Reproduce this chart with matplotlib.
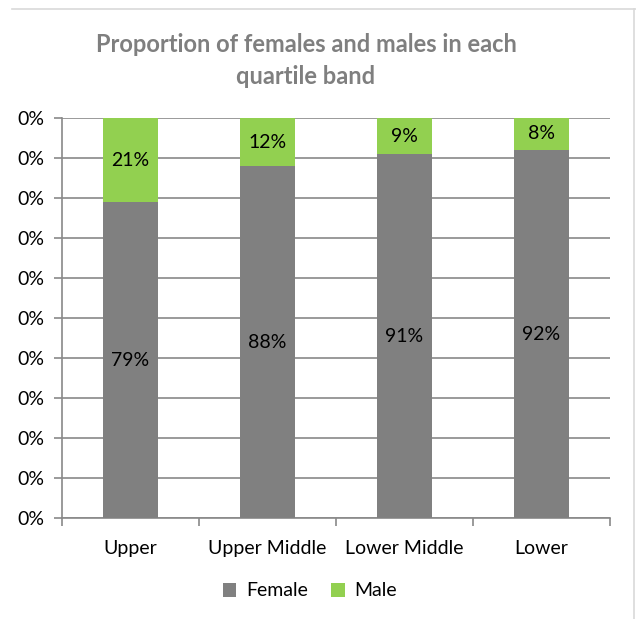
import numpy as np
import matplotlib.pyplot as plt

categories = ['Upper', 'Upper Middle', 'Lower Middle', 'Lower']
female = [0.79, 0.88, 0.91, 0.92]
male = [0.21, 0.12, 0.09, 0.08]
y_ticks = np.arange(0, 1.01, 0.1)
y_tick_labels = ['0%'] * len(y_ticks)

plt.rcParams['font.family'] = ['Lato', 'DejaVu Sans']

W, H = 636, 619
fig = plt.figure(figsize=(W / 100, H / 100), dpi=100)
ax = fig.add_axes([62 / W, 1 - 518 / H, (610 - 62) / W, (518 - 118) / H])

grid_c = '#898989'
female_c = '#808080'
male_c = '#92D050'

x = np.arange(len(categories))
bw = 0.4
ax.bar(x, female, bw, color=female_c, label='Female', zorder=3)
ax.bar(x, male, bw, bottom=female, color=male_c, label='Male', zorder=3)

for xi, f, m in zip(x, female, male):
    ax.text(xi, f / 2, f'{f * 100:.0f}%', ha='center', va='center', fontsize=14, color='black', zorder=4)
    ax.text(xi, f + m / 2, f'{m * 100:.0f}%', ha='center', va='center', fontsize=14, color='black', zorder=4)

ax.set_xlim(-0.5, len(categories) - 0.5)
ax.set_ylim(0, 1)
ax.set_yticks(y_ticks)
ax.set_yticklabels(y_tick_labels, fontsize=14)
ax.yaxis.grid(True, color=grid_c, linewidth=1.2, zorder=0)
ax.tick_params(axis='y', length=6, color=grid_c, width=1.2, pad=7)

# x ticks at category boundaries, labels at centres
ax.set_xticks(np.arange(len(categories) + 1) - 0.5)
ax.set_xticklabels([])
ax.set_xticks(x, minor=True)
ax.set_xticklabels(categories, minor=True, fontsize=14)
ax.tick_params(axis='x', which='major', length=6, color=grid_c, width=1.2)
ax.tick_params(axis='x', which='minor', length=0, pad=16)

for s in ['top', 'right']:
    ax.spines[s].set_visible(False)
for s in ['left', 'bottom']:
    ax.spines[s].set_color(grid_c)
    ax.spines[s].set_linewidth(1.2)

fig.text(306 / W, 1 - 45 / H, 'Proportion of females and males in each',
         ha='center', va='center', fontsize=17, fontweight='bold', color='#7f7f7f')
fig.text(306 / W, 1 - 77 / H, 'quartile band',
         ha='center', va='center', fontsize=17, fontweight='bold', color='#7f7f7f')

fig.legend(loc='center', bbox_to_anchor=(310 / W, 1 - 591 / H), ncol=2, frameon=False,
           fontsize=14, handlelength=0.7, handleheight=0.7, columnspacing=1.2, handletextpad=0.5)

# chart border lines (top and right)
fig.add_artist(plt.Line2D([12 / W, 1], [1 - 9 / H, 1 - 9 / H], color='#d9d9d9', linewidth=1.2))
fig.add_artist(plt.Line2D([634 / W, 634 / W], [0, 1 - 9 / H], color='#d9d9d9', linewidth=1.2))

fig.savefig('out.png', dpi=100)
